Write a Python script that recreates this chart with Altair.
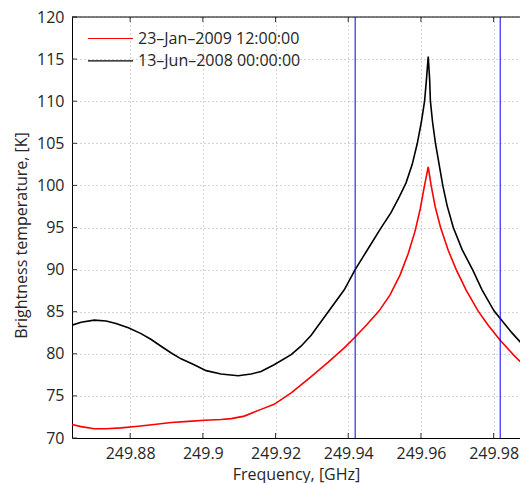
import altair as alt
import pandas as pd

# ---- data ----
series_names = ["23–Jan–2009 12:00:00", "13–Jun–2008 00:00:00"]
series_colors = ["#ff0000", "#000000"]

freq_red = [249.8640, 249.8665, 249.8701, 249.8734, 249.8775, 249.8822, 249.8866,
            249.8913, 249.8960, 249.9004, 249.9050, 249.9078, 249.9114, 249.9160,
            249.9196, 249.9243, 249.9298, 249.9345, 249.9389, 249.9419, 249.9452,
            249.9485, 249.9515, 249.9543, 249.9565, 249.9584, 249.9598, 249.9609,
            249.9620, 249.9628, 249.9639, 249.9654, 249.9675, 249.9697, 249.9724,
            249.9757, 249.9785, 249.9818, 249.9854, 249.9898, 249.9917]
temp_red = [71.6, 71.35, 71.1, 71.1, 71.2, 71.4, 71.6,
            71.85, 71.97, 72.1, 72.2, 72.3, 72.6, 73.4,
            74.0, 75.35, 77.3, 79.0, 80.7, 82.0, 83.5,
            85.1, 87.0, 89.4, 91.9, 94.6, 97.2, 99.8,
            102.2, 100.0, 97.5, 95.0, 92.3, 90.0, 87.6,
            85.1, 83.4, 81.6, 79.9, 78.0, 77.2]

freq_black = [249.8640, 249.8665, 249.8701, 249.8734, 249.8761, 249.8795, 249.8830,
              249.8858, 249.8885, 249.8913, 249.8940, 249.8976, 249.9009, 249.9050,
              249.9097, 249.9133, 249.9160, 249.9196, 249.9243, 249.9270, 249.9298,
              249.9345, 249.9389, 249.9419, 249.9452, 249.9488, 249.9518, 249.9540,
              249.9559, 249.9576, 249.9590, 249.9601, 249.9610, 249.9615, 249.9620,
              249.9624, 249.9626, 249.9632, 249.9640, 249.9660, 249.9672, 249.9689,
              249.9713, 249.9743, 249.9768, 249.9801, 249.9818, 249.9848, 249.9898,
              249.9917]
temp_black = [83.4, 83.75, 84.0, 83.9, 83.6, 83.1, 82.4,
              81.7, 80.9, 80.1, 79.4, 78.7, 78.0, 77.6,
              77.4, 77.6, 77.9, 78.7, 79.9, 80.9, 82.2,
              85.0, 87.6, 90.0, 92.3, 94.8, 96.8, 98.6,
              100.3, 102.5, 105.0, 107.5, 110.0, 112.5, 115.3,
              112.5, 110.0, 107.5, 105.0, 100.0, 97.6, 95.0,
              92.4, 89.9, 87.6, 85.1, 84.2, 82.6, 80.2,
              79.4]

marker_freqs = [249.9419, 249.9818]

x_ticks = [249.88, 249.90, 249.92, 249.94, 249.96, 249.98]
y_ticks = [70, 75, 80, 85, 90, 95, 100, 105, 110, 115, 120]
x_domain = [249.8640, 249.98725]
y_domain = [70, 120]

W, H = 448, 421
FONT = "Open Sans"
TXT = "#262626"

df = pd.concat([
    pd.DataFrame({"freq": freq_red, "temp": temp_red, "series": series_names[0]}),
    pd.DataFrame({"freq": freq_black, "temp": temp_black, "series": series_names[1]}),
])

xscale = alt.Scale(domain=x_domain, nice=False, zero=False)
yscale = alt.Scale(domain=y_domain, nice=False, zero=False)

x_axis = alt.Axis(values=x_ticks, labelExpr="format(datum.value, '.2~f')",
                  title="Frequency, [GHz]", grid=True, ticks=False,
                  labelPadding=7, titlePadding=5)
y_axis = alt.Axis(values=y_ticks, format="d", title="Brightness temperature, [K]",
                  grid=True, ticks=False, labelPadding=8,
                  titleX=-51, titleY=218, titleBaseline="middle", titleAngle=-90)

lines = alt.Chart(df).mark_line(clip=True, strokeWidth=1.6).encode(
    x=alt.X("freq:Q", scale=xscale, axis=x_axis),
    y=alt.Y("temp:Q", scale=yscale, axis=y_axis),
    color=alt.Color("series:N", scale=alt.Scale(domain=series_names, range=series_colors),
                    legend=None),
    order=alt.Order("freq:Q"),
)

markers = alt.Chart(pd.DataFrame({"freq": marker_freqs})).mark_rule(
    color="#0000ff", strokeWidth=1, clip=True
).encode(x=alt.X("freq:Q", scale=xscale))

xt = pd.DataFrame({"t": x_ticks})
yt = pd.DataFrame({"t": y_ticks})
tick_style = dict(color="#333333", strokeWidth=1)
xticks_bottom = alt.Chart(xt).mark_rule(**tick_style).encode(
    x=alt.X("t:Q", scale=xscale), y=alt.value(H), y2=alt.value(H - 5))
xticks_top = alt.Chart(xt).mark_rule(**tick_style).encode(
    x=alt.X("t:Q", scale=xscale), y=alt.value(0), y2=alt.value(5))
yticks_left = alt.Chart(yt).mark_rule(**tick_style).encode(
    y=alt.Y("t:Q", scale=yscale), x=alt.value(0), x2=alt.value(5))

top_border = alt.Chart(alt.Data(values=[{}])).mark_rule(color="black", strokeWidth=1).encode(
    x=alt.value(0), x2=alt.value(W), y=alt.value(0))

legend_layers = []
for i, (name, col) in enumerate(zip(series_names, series_colors)):
    ldf = pd.DataFrame({"name": [name]})
    yy = 21.5 + 22.4 * i
    legend_layers.append(alt.Chart(ldf).mark_rule(color=col, strokeWidth=1.2).encode(
        x=alt.value(16), x2=alt.value(61), y=alt.value(yy)))
    legend_layers.append(alt.Chart(ldf).mark_text(
        align="left", baseline="middle", font=FONT, fontSize=16, color=TXT
    ).encode(x=alt.value(66), y=alt.value(yy), text="name:N"))

chart = alt.layer(lines, markers, xticks_bottom, xticks_top, yticks_left, top_border,
                  *legend_layers).properties(
    width=W, height=H,
    autosize=alt.AutoSizeParams(type="none"),
    padding={"left": 64, "top": 9, "right": 0, "bottom": 47},
).configure_view(stroke=None).configure_axis(
    labelFont=FONT, titleFont=FONT, labelFontSize=16, titleFontSize=16,
    labelColor=TXT, titleColor=TXT, titleFontWeight="normal",
    domainColor="black", domainWidth=1,
    gridColor="#a8a8a8", gridDash=[1, 3], gridWidth=1,
)

chart.save("out.html", embed_options={"renderer": "svg", "actions": False})
